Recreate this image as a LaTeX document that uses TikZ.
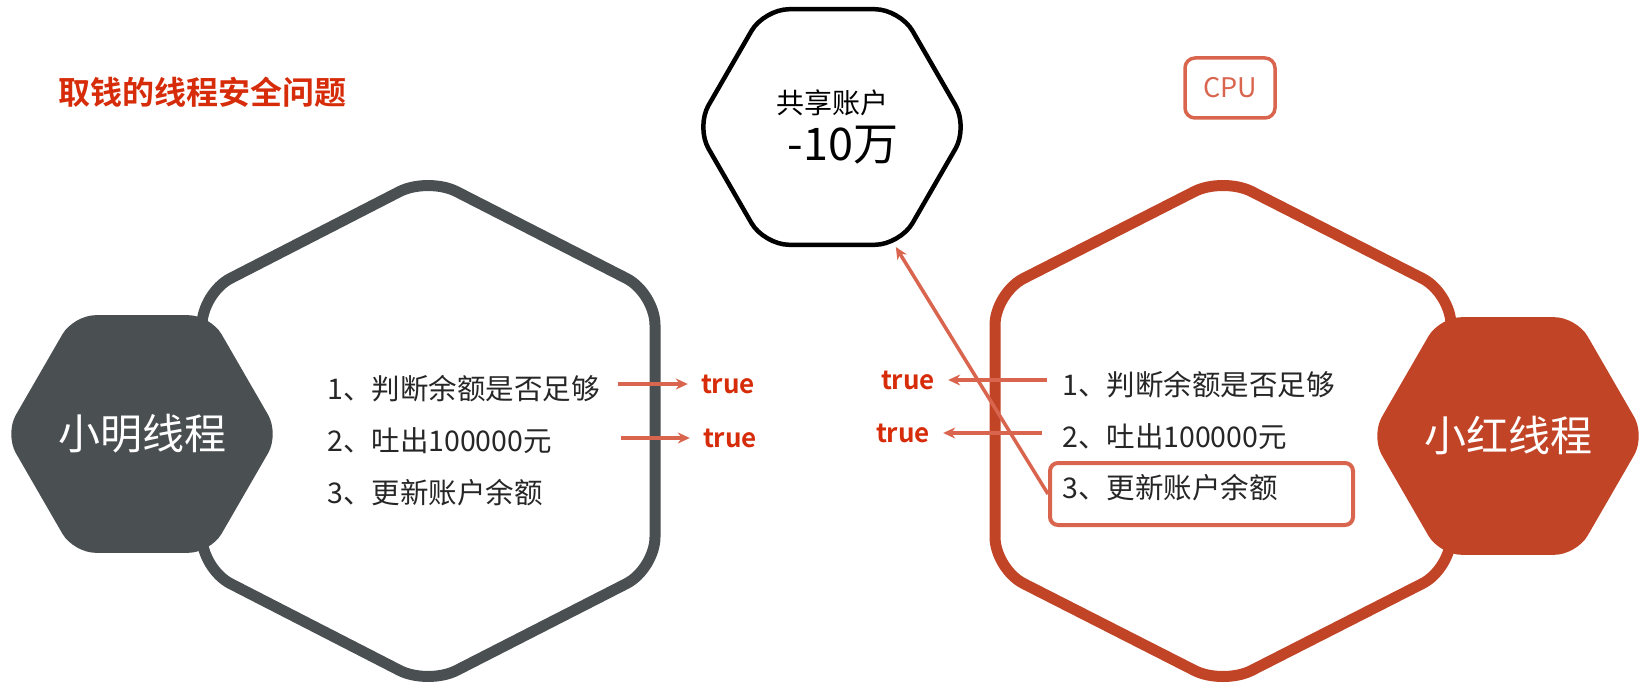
\documentclass[tikz,border=0pt]{standalone}
\usepackage{fontspec}
\setmainfont{Noto Sans CJK SC}[BoldFont={Noto Sans CJK SC Bold}]
\usetikzlibrary{shapes.geometric, arrows.meta, positioning}
\definecolor{mingGray}{RGB}{74,79,82}
\definecolor{hongRed}{RGB}{194,68,39}
\definecolor{lineRed}{RGB}{217,101,78}
\definecolor{trueRed}{RGB}{214,44,10}
\definecolor{txtDark}{RGB}{38,38,38}
\begin{document}
\begin{tikzpicture}[x=1pt, y=-1pt, >={Stealth[length=12pt, width=11pt]},
	hexa/.style={regular polygon, regular polygon sides=6, minimum size=272pt, rounded corners=22pt, inner sep=0pt},
	bighex/.style={line width=11pt, rounded corners=32pt},
	item/.style={anchor=west, inner sep=0pt, text=txtDark, font=\fontsize{28.5}{34}\selectfont},
	truetxt/.style={inner sep=0pt, text=trueRed, font=\bfseries\fontsize{26}{30}\selectfont},
	arr/.style={->, draw=lineRed, line width=3.5pt, shorten >=13pt}]
	\useasboundingbox (0,0) rectangle (1642,698);
	
	% 1. 外层大六边形（最底层）
	\draw[bighex, mingGray] (655,431) -- (655,569) -- (428,685) -- (202,569) -- (202,293) -- (428,177) -- (655,293) -- cycle;
	\draw[bighex, hongRed] (1451,431) -- (1451,569) -- (1223,685) -- (995,569) -- (995,293) -- (1223,177) -- (1451,293) -- cycle;
	
	% 2. 线程六边形与共享账户
	\node[hexa, fill=mingGray, text=white, font=\fontsize{42}{48}\selectfont] (ming) at (142,434) {小明线程};
	\node[hexa, fill=hongRed, text=white, font=\fontsize{42}{48}\selectfont] (hong) at (1508,436) {小红线程};
	\node[hexa, draw=black, line width=4.5pt, rounded corners=25pt] (acct) at (832,127) {};
	\node[inner sep=0pt, font=\fontsize{28}{32}\selectfont] (acctname) at (832,103) {共享账户};
	\node[inner sep=0pt, font=\fontsize{45}{50}\selectfont] (acctval) at (843,145) {-10万};
	
	% 3. 标题、CPU 与步骤文字
	\node[anchor=west, inner sep=0pt, text=trueRed, font=\bfseries\fontsize{32}{36}\selectfont] (title) at (58,92) {取钱的线程安全问题};
	\node[draw=lineRed, text=lineRed, line width=3.5pt, rounded corners=10pt, minimum width=90pt, minimum height=60pt, font=\fontsize{27}{30}\selectfont] (cpu) at (1230,88) {CPU};
	\node[item] (ming1) at (327,389) {1、判断余额是否足够};
	\node[item] (ming2) at (327,441) {2、吐出100000元};
	\node[item] (ming3) at (327,493) {3、更新账户余额};
	\node[item] (hong1) at (1062,385) {1、判断余额是否足够};
	\node[item] (hong2) at (1062,437) {2、吐出100000元};
	\node[item] (hong3) at (1062,488) {3、更新账户余额};
	\node[draw=lineRed, line width=4pt, rounded corners=8pt, minimum width=303pt, minimum height=62pt] (hongbox) at (1201.5,494) {};
	
	% 4. 返回值与箭头（最高层）
	\node[truetxt] (mingt1) at (728,384) {true};
	\node[truetxt] (mingt2) at (730,438) {true};
	\node[truetxt] (hongt1) at (908,380) {true};
	\node[truetxt] (hongt2) at (903,433) {true};
	\coordinate (ma1) at (618,384);
	\coordinate (ma2) at (621,438);
	\coordinate (ha1) at (1047,380);
	\coordinate (ha2) at (1042,433);
	\draw[arr] (ma1) -- (mingt1);
	\draw[arr] (ma2) -- (mingt2);
	\draw[arr] (ha1) -- (hongt1);
	\draw[arr] (ha2) -- (hongt2);
	\draw[arr, shorten >=0pt] (hongbox.west) -- (acct.-62);
\end{tikzpicture}
\end{document}
